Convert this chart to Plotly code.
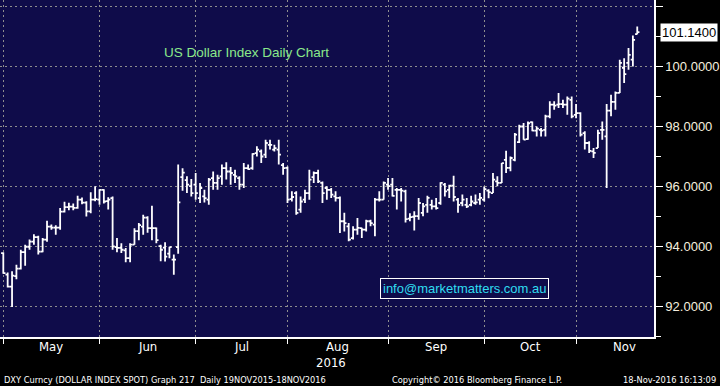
import pandas as pd
import plotly.graph_objects as go

# ---------------- data ----------------
dates = pd.bdate_range("2016-04-29", "2016-11-18")

opens = [93.77, 93.05, 92.65, 93.00, 93.25, 93.80, 93.98, 94.15, 94.30, 93.82,
         94.22, 94.65, 94.62, 94.62, 95.15, 95.30, 95.32, 95.28, 95.55, 95.45,
         95.16, 95.55, 95.55, 95.88, 95.50, 95.60, 93.97, 93.94, 93.86, 93.60,
         94.05, 94.50, 94.65, 94.95, 94.60, 94.60, 94.00, 93.95, 93.75, 93.55,
         93.97, 96.30, 96.20, 96.00, 96.05, 95.60, 95.66, 95.55, 96.27, 96.11,
         96.33, 96.60, 96.49, 96.38, 96.27, 96.05, 96.60, 96.60, 97.10, 97.16,
         97.05, 97.38, 97.22, 97.22, 96.70, 96.61, 95.57, 95.77, 95.22, 95.55,
         95.77, 96.30, 96.44, 96.11, 95.94, 95.88, 95.66, 95.61, 94.83, 94.66,
         94.27, 94.55, 94.60, 94.55, 94.83, 94.72, 95.55, 95.55, 96.05, 96.05,
         95.88, 95.88, 95.83, 94.92, 94.98, 95.00, 95.11, 95.38, 95.38, 95.33,
         95.44, 96.05, 95.88, 96.02, 95.55, 95.44, 95.38, 95.38, 95.44, 95.55,
         95.55, 95.85, 95.77, 96.16, 96.11, 96.88, 96.61, 96.88, 97.47, 97.99,
         97.57, 98.14, 97.85, 97.88, 97.88, 98.33, 98.72, 98.72, 98.74, 98.72,
         98.88, 98.38, 98.44, 97.77, 97.44, 97.16, 97.27, 97.88, 97.66, 98.52,
         98.81, 99.11, 99.95, 100.11, 100.22, 101.07]
highs = [93.80, 93.12, 93.16, 93.38, 93.88, 94.05, 94.22, 94.40, 94.35, 94.27,
         94.85, 94.72, 94.70, 95.27, 95.48, 95.45, 95.42, 95.68, 95.62, 95.50,
         95.80, 96.00, 95.90, 95.90, 95.63, 95.66, 94.27, 94.10, 93.94, 94.10,
         94.60, 94.77, 95.05, 95.00, 95.35, 94.62, 94.05, 94.13, 93.98, 93.72,
         96.72, 96.60, 96.33, 96.24, 96.44, 96.11, 95.88, 96.27, 96.49, 96.38,
         96.72, 96.80, 96.64, 96.55, 96.33, 96.77, 96.72, 97.10, 97.33, 97.22,
         97.55, 97.55, 97.38, 97.55, 96.77, 96.66, 95.83, 95.83, 95.66, 95.88,
         96.55, 96.49, 96.55, 96.16, 96.00, 95.94, 95.83, 95.66, 95.11, 94.77,
         94.66, 94.94, 94.61, 94.88, 94.88, 95.61, 95.83, 96.16, 96.27, 96.27,
         95.94, 95.94, 95.88, 95.10, 95.16, 95.61, 95.44, 95.68, 95.55, 95.61,
         96.13, 96.11, 96.05, 96.35, 95.61, 95.72, 95.61, 95.68, 95.72, 95.77,
         95.99, 95.90, 96.44, 96.33, 96.77, 97.18, 96.99, 97.77, 98.05, 98.11,
         98.16, 98.16, 97.99, 97.94, 98.38, 98.83, 98.83, 99.11, 98.88, 98.99,
         98.99, 98.74, 98.47, 97.83, 97.50, 97.27, 97.88, 98.16, 98.74, 99.05,
         99.16, 100.22, 100.27, 100.61, 101.03, 101.33]
lows = [93.08, 92.62, 91.97, 92.90, 93.22, 93.35, 93.88, 94.05, 93.72, 93.80,
        94.15, 94.55, 94.38, 94.55, 95.12, 95.20, 95.20, 95.25, 95.40, 94.99,
        95.10, 95.50, 95.38, 95.42, 95.22, 93.88, 93.80, 93.77, 93.46, 93.46,
        94.05, 94.20, 94.38, 94.45, 94.20, 94.10, 93.50, 93.49, 93.60, 93.05,
        93.75, 95.85, 95.77, 95.66, 95.55, 95.44, 95.46, 95.38, 95.88, 95.88,
        96.05, 96.22, 96.05, 96.11, 95.88, 95.94, 96.55, 96.55, 96.99, 96.77,
        96.94, 97.22, 97.16, 96.72, 96.38, 95.44, 95.49, 95.05, 95.11, 95.44,
        95.55, 96.11, 96.11, 95.44, 95.55, 95.61, 95.49, 94.44, 94.49, 94.16,
        94.22, 94.38, 94.27, 94.49, 94.66, 94.33, 95.49, 95.55, 95.88, 95.66,
        95.22, 95.49, 94.79, 94.83, 94.52, 94.88, 95.00, 95.11, 95.22, 95.22,
        95.38, 95.66, 95.61, 95.49, 95.11, 95.33, 95.27, 95.33, 95.38, 95.38,
        95.49, 95.60, 95.77, 96.00, 96.11, 96.44, 96.50, 96.83, 97.44, 97.55,
        97.55, 97.83, 97.66, 97.66, 97.66, 98.27, 98.55, 98.61, 98.61, 98.38,
        98.27, 98.27, 97.66, 97.22, 97.11, 96.94, 97.27, 97.55, 95.94, 98.33,
        98.55, 99.11, 99.44, 99.88, 99.99, 101.07]
closes = [93.10, 92.65, 93.02, 93.25, 93.80, 93.98, 94.15, 94.30, 93.82, 94.22,
          94.65, 94.62, 94.62, 95.15, 95.30, 95.32, 95.28, 95.55, 95.45, 95.16,
          95.55, 95.57, 95.88, 95.49, 95.55, 93.99, 93.94, 93.88, 93.60, 94.05,
          94.50, 94.70, 94.95, 94.60, 94.60, 94.20, 93.88, 93.65, 93.97, 93.55,
          95.46, 96.45, 96.05, 95.77, 95.77, 95.94, 95.60, 96.22, 96.11, 96.27,
          96.60, 96.49, 96.44, 96.33, 96.05, 96.60, 96.57, 97.08, 97.22, 96.99,
          97.44, 97.38, 97.27, 97.05, 96.60, 95.55, 95.64, 95.11, 95.49, 95.77,
          96.22, 96.44, 96.16, 95.77, 95.88, 95.72, 95.61, 94.83, 94.77, 94.22,
          94.55, 94.61, 94.55, 94.83, 94.77, 95.55, 95.55, 96.11, 96.00, 95.68,
          95.88, 95.85, 94.90, 94.97, 95.00, 95.44, 95.33, 95.61, 95.33, 95.27,
          96.11, 95.83, 96.02, 95.64, 95.38, 95.55, 95.33, 95.49, 95.46, 95.61,
          95.90, 95.80, 96.22, 96.11, 96.77, 96.61, 96.94, 97.72, 97.99, 97.55,
          98.10, 97.85, 97.92, 97.85, 98.33, 98.72, 98.69, 98.74, 98.72, 98.92,
          98.33, 98.44, 97.72, 97.44, 97.18, 97.11, 97.77, 97.88, 98.52, 98.81,
          99.11, 100.11, 99.74, 100.38, 100.88, 101.14]

y_ticks = [92, 94, 96, 98, 100, 102]
y_minor = [91, 93, 95, 97, 99, 101]

title_text = "US Dollar Index Daily Chart"
box_text = "info@marketmatters.com.au"
year_text = "2016"
footer_left = "DXY Curncy (DOLLAR INDEX SPOT) Graph 217  Daily 19NOV2015-18NOV2016"
footer_mid = "Copyright\u00a9 2016 Bloomberg Finance L.P."
footer_right = "18-Nov-2016 16:13:09"

# ---------------- derived positions ----------------
pos = list(range(len(dates)))
bounds = [i for i in range(len(dates) - 1) if dates[i].month != dates[i + 1].month]
label_pos, label_txt = [], []
for k, b in enumerate(bounds):
    nxt = bounds[k + 1] if k + 1 < len(bounds) else b + 22
    label_pos.append((b + nxt) / 2)
    label_txt.append(dates[b + 1].strftime("%b"))

NAVY = "#0f0c4a"
GRID = "#8e8e8e"
NARROW = "Liberation Sans Narrow, DejaVu Sans Condensed, Arial Narrow, sans-serif"
PLOT_H = 337.0

fig = go.Figure()
fig.add_trace(go.Ohlc(
    x=pos, open=opens, high=highs, low=lows, close=closes,
    increasing=dict(line=dict(color="white", width=1.8)),
    decreasing=dict(line=dict(color="white", width=1.8)),
    tickwidth=0.5, showlegend=False, hoverinfo="skip",
))
# little pointer triangles beside the right-axis labels
fig.add_trace(go.Scatter(
    x=[1.006] * len(y_ticks), y=y_ticks, xaxis="x2", mode="markers",
    marker=dict(symbol="triangle-right", size=7, color="white"),
    cliponaxis=False, showlegend=False, hoverinfo="skip",
))
fig.add_trace(go.Scatter(
    x=[1.007], y=[closes[-1]], xaxis="x2", mode="markers",
    marker=dict(symbol="triangle-left", size=10, color="white"),
    cliponaxis=False, showlegend=False, hoverinfo="skip",
))

fig.update_layout(
    width=720, height=386,
    margin=dict(l=0, r=66, t=0, b=49),
    paper_bgcolor="black", plot_bgcolor=NAVY,
    hovermode=False,
    xaxis=dict(
        range=[-0.755, 148.83], rangeslider=dict(visible=False),
        tickmode="array", tickvals=label_pos, ticktext=label_txt, ticks="",
        showticklabels=False,
        showgrid=False, zeroline=False,
        showline=True, linecolor="white", linewidth=1.5,
        minor=dict(tickmode="array", tickvals=bounds, ticks="outside",
                   ticklen=5, tickcolor="white", tickwidth=1,
                   showgrid=True, gridcolor=GRID, griddash="2px,3px", gridwidth=1),
    ),
    xaxis2=dict(range=[0, 1], overlaying="x", visible=False),
    yaxis=dict(
        side="right", range=[90.97, 102.21],
        tickmode="array", tickvals=y_ticks,
        ticktext=[f"{v:.4f}" for v in y_ticks],
        ticks="outside", ticklen=7, tickcolor="white", tickwidth=1,
        showgrid=True, gridcolor=GRID, griddash="2px,3px", gridwidth=1,
        zeroline=False, showline=True, linecolor="white", linewidth=1.5,
        tickfont=dict(family="Liberation Sans, Arial, sans-serif", size=13, color="#f6efdf"),
        minor=dict(tickmode="array", tickvals=y_minor, ticks="outside",
                   ticklen=5, tickcolor="white", tickwidth=1, showgrid=False),
    ),
)

ann = []
for lp, lt in zip(label_pos, label_txt):
    ann.append(dict(text=lt, xref="x", yref="paper", x=lp, y=(PLOT_H - 346) / PLOT_H,
                    xanchor="center", yanchor="middle", showarrow=False,
                    font=dict(family=NARROW, size=13, color="white")))
ann.append(dict(text=title_text, xref="paper", yref="paper", x=247 / 654, y=(PLOT_H - 52) / PLOT_H,
                xanchor="center", yanchor="middle", showarrow=False,
                font=dict(family="Liberation Sans, Arial, sans-serif", size=13.5, color="#8ae88a")))
ann.append(dict(text=box_text, xref="paper", yref="paper", x=465 / 654, y=(PLOT_H - 288.5) / PLOT_H,
                xanchor="center", yanchor="middle", showarrow=False,
                bordercolor="white", borderwidth=1, borderpad=2, bgcolor=NAVY,
                font=dict(family="Liberation Sans, Arial, sans-serif", size=13, color="#2fdcf0")))
ann.append(dict(text=f"{closes[-1]:.4f}", xref="paper", yref="y", x=660 / 654, y=closes[-1],
                xanchor="left", yanchor="middle", showarrow=False,
                bgcolor="white", borderpad=1,
                font=dict(family="Liberation Sans, Arial, sans-serif", size=13, color="black")))
ann.append(dict(text=year_text, xref="x", yref="paper", x=75, y=(PLOT_H - 362) / PLOT_H,
                xanchor="center", yanchor="middle", showarrow=False,
                font=dict(family=NARROW, size=13, color="white")))
FOOT = dict(family=NARROW, size=9.2, color="white")
ann.append(dict(text=footer_left, xref="paper", yref="paper", x=2 / 654, y=(PLOT_H - 379) / PLOT_H,
                xanchor="left", yanchor="middle", showarrow=False, font=FOOT))
ann.append(dict(text=footer_mid, xref="paper", yref="paper", x=390 / 654, y=(PLOT_H - 379) / PLOT_H,
                xanchor="left", yanchor="middle", showarrow=False, font=FOOT))
ann.append(dict(text=footer_right, xref="paper", yref="paper", x=718 / 654, y=(PLOT_H - 379) / PLOT_H,
                xanchor="right", yanchor="middle", showarrow=False, font=FOOT))
fig.update_layout(annotations=ann)

fig.write_html("out.html", config={"displayModeBar": False},
               post_script="document.body.style.margin='0';document.body.style.background='black';")
